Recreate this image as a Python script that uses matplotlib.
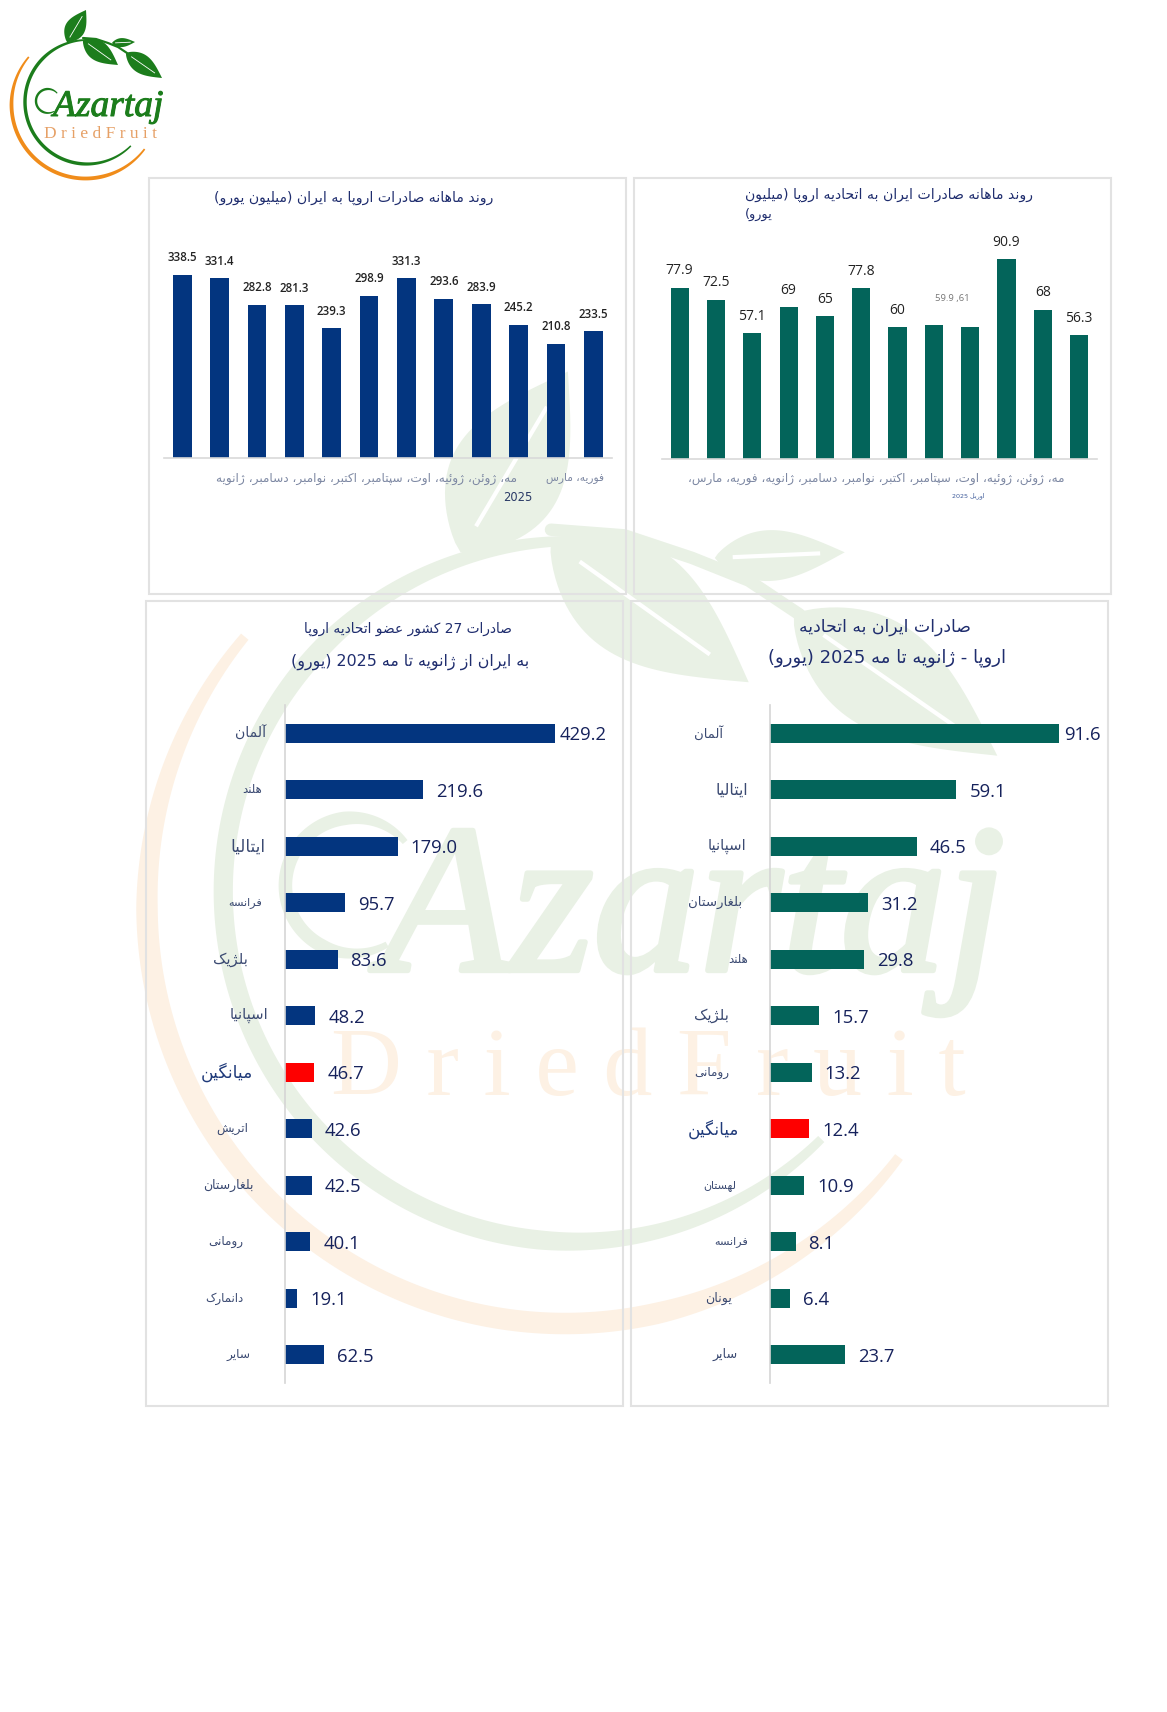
import re
import numpy as np
import matplotlib
matplotlib.use('Agg')
import matplotlib.pyplot as plt
import matplotlib.patheffects as pe
from matplotlib.patches import Polygon, Rectangle
from matplotlib.transforms import blended_transform_factory

W, H = 1167, 1712

# data
eu_to_iran_monthly = [338.5, 331.4, 282.8, 281.3, 239.3, 298.9, 331.3, 293.6, 283.9, 245.2, 210.8, 233.5]
iran_to_eu_monthly = [77.9, 72.5, 57.1, 69, 65, 77.8, 60, 61, 59.9, 90.9, 68, 56.3]

eu_countries = ['آلمان', 'هلند', 'ایتالیا', 'فرانسه', 'بلژیک', 'اسپانیا', 'میانگین', 'اتریش', 'بلغارستان', 'رومانی', 'دانمارک', 'سایر']
eu_values = [429.2, 219.6, 179.0, 95.7, 83.6, 48.2, 46.7, 42.6, 42.5, 40.1, 19.1, 62.5]

iran_countries = ['آلمان', 'ایتالیا', 'اسپانیا', 'بلغارستان', 'هلند', 'بلژیک', 'رومانی', 'میانگین', 'لهستان', 'فرانسه', 'یونان', 'سایر']
iran_values = [91.6, 59.1, 46.5, 31.2, 29.8, 15.7, 13.2, 12.4, 10.9, 8.1, 6.4, 23.7]

# where each country name sits (right edge, width in px), reads off the picture
eu_label_right = [266, 262, 266, 262, 248, 268, 253, 248, 254, 243, 243, 251]
eu_label_width = [31, 20, 35, 34, 35, 39, 52, 32, 51, 35, 38, 24]
iran_label_right = [723, 748, 746, 742, 748, 729, 729, 739, 736, 748, 732, 738]
iran_label_width = [29, 33, 39, 54, 20, 35, 35, 51, 33, 34, 27, 25]

NAVY = '#03357f'
TEAL = '#03645a'
RED = '#fe0000'
TITLE = '#1f2d6e'
GREY = '#7d88a3'

# matplotlib does not shape Arabic script, so pick presentation forms by hand
FORMS = {
    'ا': (0xFE8D, 0xFE8E), 'آ': (0xFE81, 0xFE82), 'د': (0xFEA9, 0xFEAA), 'ر': (0xFEAD, 0xFEAE),
    'ز': (0xFEAF, 0xFEB0), 'ژ': (0xFB8A, 0xFB8B), 'و': (0xFEED, 0xFEEE),
    'ب': (0xFE8F, 0xFE90, 0xFE91, 0xFE92), 'پ': (0xFB56, 0xFB57, 0xFB58, 0xFB59),
    'ت': (0xFE95, 0xFE96, 0xFE97, 0xFE98), 'ح': (0xFEA1, 0xFEA2, 0xFEA3, 0xFEA4),
    'س': (0xFEB1, 0xFEB2, 0xFEB3, 0xFEB4), 'ش': (0xFEB5, 0xFEB6, 0xFEB7, 0xFEB8),
    'ص': (0xFEB9, 0xFEBA, 0xFEBB, 0xFEBC), 'ض': (0xFEBD, 0xFEBE, 0xFEBF, 0xFEC0),
    'ع': (0xFEC9, 0xFECA, 0xFECB, 0xFECC), 'غ': (0xFECD, 0xFECE, 0xFECF, 0xFED0),
    'ف': (0xFED1, 0xFED2, 0xFED3, 0xFED4), 'ک': (0xFB8E, 0xFB8F, 0xFB90, 0xFB91),
    'گ': (0xFB92, 0xFB93, 0xFB94, 0xFB95), 'ل': (0xFEDD, 0xFEDE, 0xFEDF, 0xFEE0),
    'م': (0xFEE1, 0xFEE2, 0xFEE3, 0xFEE4), 'ن': (0xFEE5, 0xFEE6, 0xFEE7, 0xFEE8),
    'ه': (0xFEE9, 0xFEEA, 0xFEEB, 0xFEEC), 'ی': (0xFBFC, 0xFBFD, 0xFBFE, 0xFBFF),
    'ئ': (0xFE89, 0xFE8A, 0xFE8B, 0xFE8C),
}


def fa(s):
    out = []
    for i, c in enumerate(s):
        if c not in FORMS:
            out.append(c)
            continue
        f = FORMS[c]
        after_join = i > 0 and s[i - 1] in FORMS and len(FORMS[s[i - 1]]) == 4
        before_join = i + 1 < len(s) and s[i + 1] in FORMS and len(f) == 4
        if after_join and before_join:
            out.append(chr(f[3]))
        elif before_join:
            out.append(chr(f[2]))
        elif after_join:
            out.append(chr(f[1]))
        else:
            out.append(chr(f[0]))
    tokens = re.findall(r'[0-9.]+|.', ''.join(out))[::-1]
    mirror = {'(': ')', ')': '('}
    return ''.join(mirror.get(t, t) for t in tokens)


fig = plt.figure(figsize=(W / 100, H / 100), dpi=100, facecolor='white')
bg = fig.add_axes([0, 0, 1, 1], zorder=0)
bg.set_xlim(0, W)
bg.set_ylim(H, 0)
bg.axis('off')
renderer = fig.canvas.get_renderer()


def chart_axes(x0, y0, x1, y1):
    ax = fig.add_axes([x0 / W, 1 - y1 / H, (x1 - x0) / W, (y1 - y0) / H], zorder=2)
    ax.patch.set_alpha(0)
    return ax


def fit_text(x, y, s, width, color, ha='center', transform=None):
    # scale the font so the string covers the width it has in the picture
    t = bg.text(x, y, s, color=color, ha=ha, va='center', family='DejaVu Sans', fontsize=10,
                transform=transform or bg.transData)
    t.set_fontsize(10 * width / t.get_window_extent(renderer).width)
    return t


def ring(cx, cy, r, w, a0, a1):
    a = np.radians(np.linspace(a0, a1, 200))
    u = np.linspace(0, 1, 200)
    ww = w * np.minimum(1, 0.45 + 2.5 * np.minimum(u, 1 - u))
    outer = np.c_[cx + (r + ww / 2) * np.cos(a), cy - (r + ww / 2) * np.sin(a)]
    inner = np.c_[cx + (r - ww / 2) * np.cos(a), cy - (r - ww / 2) * np.sin(a)]
    return np.r_[outer, inner[::-1]]


def leaf(base, tip, bulge):
    base, tip = np.array(base, float), np.array(tip, float)
    d = tip - base
    n = np.array([-d[1], d[0]]) / np.hypot(*d)
    t = np.linspace(0, 1, 40)[:, None]
    edge = base + d * t
    side = n * (bulge * np.sin(np.pi * t ** 0.8))
    return np.r_[edge + side, (edge - side)[::-1]], edge


def draw_logo(k, ox, oy, green, orange, name_color, sub_color, lw_rib):
    z = 1

    def to_px(p):
        return np.asarray(p) * k + [ox, oy]

    bg.add_patch(Polygon(to_px(ring(85.5, 104.5, 74, 3.8, 140, 323)), fc=orange, ec='none', zorder=z))
    bg.add_patch(Polygon(to_px(ring(87, 102, 62, 3.4, 85, 315)), fc=green, ec='none', zorder=z))
    stem = to_px([[83, 38], [96, 39], [108, 43], [118, 47], [127, 53]])
    bg.plot(stem[:, 0], stem[:, 1], color=green, lw=2.2 * k * 0.72, zorder=z, solid_capstyle='round')
    for base, tip, bulge in [((67, 42), (86, 10), 10), ((83, 40), (118, 65), 10),
                             ((112, 43), (135, 42), 4.5), ((126, 53), (162, 78), 9.5)]:
        pts, rib = leaf(base, tip, bulge)
        bg.add_patch(Polygon(to_px(pts), fc=green, ec='none', zorder=z))
        rib = to_px(rib[6:32])
        bg.plot(rib[:, 0], rib[:, 1], color='white', lw=lw_rib, zorder=z + 0.1)
    # swash in front of the A
    bg.add_patch(Polygon(to_px(ring(48, 101, 12, 2.4, 40, 300)), fc=name_color, ec='none', zorder=z + 0.2))
    x, y = to_px((53, 116))
    name = bg.text(x, y, 'Azartaj', color=name_color, family='Liberation Serif', style='italic',
                   fontsize=27 * k, ha='left', va='baseline', zorder=z + 0.2)
    # the script in the logo has heavier strokes than the serif italic
    name.set_path_effects([pe.withStroke(linewidth=0.7 * k, foreground=name_color)])
    x, y = to_px((44, 138))
    bg.text(x, y, 'D r i e d F r u i t', color=sub_color, family='Liberation Serif',
            fontsize=12.5 * k, ha='left', va='baseline', zorder=z + 0.2)


# watermark is the logo blown up behind the panels
draw_logo(5.65, 82, 315, '#e9f1e5', '#fdf1e4', '#e9f1e5', '#fdf1e4', 3)
draw_logo(1, 0, 0, '#1c7d1c', '#f08c1a', '#1c7d1c', '#e6a066', 0.6)

for x0, y0, x1, y1 in [(149, 178, 626, 594), (634, 178, 1111, 594), (146, 601, 623, 1406), (631, 601, 1108, 1406)]:
    bg.add_patch(Rectangle((x0, y0), x1 - x0, y1 - y0, fc='none', ec='#e2e2e2', lw=1.5, zorder=1.5))


def monthly_chart(values, x0, x1, y_base, px_per_unit, color, fontsize, weight, skip=()):
    y_top = y_base - 230
    ax = chart_axes(x0, y_top, x1, y_base)
    xs = np.arange(len(values))
    ax.bar(xs, values, width=0.5, color=color)
    ax.set_xlim(-0.5, len(values) - 0.5)
    ax.set_ylim(0, 230 / px_per_unit)
    for side in ['top', 'left', 'right']:
        ax.spines[side].set_visible(False)
    ax.spines['bottom'].set_color('#d9d9d9')
    ax.spines['bottom'].set_linewidth(1.2)
    ax.set_xticks([])
    ax.set_yticks([])
    for i, v in enumerate(values):
        if i in skip:
            continue
        ax.annotate(str(v), (i, v), xytext=(0, 17), textcoords='offset pixels', ha='center', va='center',
                    family='Open Sans', fontsize=fontsize, weight=weight, color='#222222', annotation_clip=False)
    return ax


ax_tl = monthly_chart(eu_to_iran_monthly, 163.5, 612, 457.5, 183 / 338.5, NAVY, 8.3, 'semibold')
ax_tr = monthly_chart(iran_to_eu_monthly, 661.5, 1097.2, 458.5, 170.6 / 77.9, TEAL, 10, 'normal', skip=(7, 8))
# the two neighbouring labels share one small grey text in the original
ax_tr.annotate(f'{iran_to_eu_monthly[8]} ,{iran_to_eu_monthly[7]}', (7.5, iran_to_eu_monthly[7]), xytext=(0, 26),
               textcoords='offset pixels', ha='center', va='center', family='Open Sans', fontsize=6.8,
               color='#777777', annotation_clip=False)


def country_chart(names, values, x0, x1, px_per_unit, color, label_right, label_width):
    ax = chart_axes(x0, 705, x1, 1383)
    ys = np.arange(len(values))
    colors = [RED if n == 'میانگین' else color for n in names]
    ax.barh(ys, values, height=0.345, color=colors, left=0)
    ax.set_ylim(len(values) - 0.5, -0.5)
    ax.set_xlim(0, (x1 - x0) / px_per_unit)
    for side in ['top', 'right', 'bottom']:
        ax.spines[side].set_visible(False)
    ax.spines['left'].set_color('#d5d5d5')
    ax.spines['left'].set_linewidth(1.2)
    ax.set_xticks([])
    ax.set_yticks([])
    names_tr = blended_transform_factory(bg.transData, ax.transData)
    for i, (n, v) in enumerate(zip(names, values)):
        gap = 5 if i == 0 else 13
        ax.annotate(f'{v:.1f}', (v, i), xytext=(gap, -2), textcoords='offset pixels', ha='left', va='center',
                    family='Open Sans', fontsize=13.3, color='#16225c', annotation_clip=False)
        fit_text(label_right[i], i, fa(n), label_width[i], '#1f3a7a' if n == 'میانگین' else '#3b4a72',
                 ha='right', transform=names_tr)
    return ax


ax_bl = country_chart(eu_countries, eu_values, 285, 615, 270 / 429.2, NAVY, eu_label_right, eu_label_width)
ax_br = country_chart(iran_countries, iran_values, 770, 1100, 288.7 / 91.6, TEAL, iran_label_right, iran_label_width)

# titles
fit_text(354, 198, fa('روند ماهانه صادرات اروپا به ایران (میلیون یورو)'), 277, TITLE)
fit_text(1033, 195, fa('روند ماهانه صادرات ایران به اتحادیه اروپا (میلیون'), 286, TITLE, ha='right')
fit_text(745, 214, fa('یورو)'), 28, TITLE, ha='left')
fit_text(408, 629, fa('صادرات 27 کشور عضو اتحادیه اروپا'), 207, TITLE)
fit_text(410, 662, fa('به ایران از ژانویه تا مه 2025 (یورو)'), 239, TITLE)
fit_text(885, 627, fa('صادرات ایران به اتحادیه'), 172, TITLE)
fit_text(887, 658, fa('اروپا - ژانویه تا مه 2025 (یورو)'), 237, TITLE)

# month captions, broken up the same way as in the original
fit_text(604, 478, fa('فوریه، مارس'), 58, GREY, ha='right')
fit_text(517, 478, fa('مه، ژوئن، ژوئیه، اوت، سپتامبر، اکتبر، نوامبر، دسامبر، ژانویه'), 301, GREY, ha='right')
fit_text(518, 497, '2025', 29, '#2a3a66')
fit_text(1064, 478, fa('مه، ژوئن، ژوئیه، اوت، سپتامبر، اکتبر، نوامبر، دسامبر، ژانویه، فوریه، مارس،'), 376, GREY, ha='right')
fit_text(968, 496, fa('اوریل 2025'), 33, '#3d5a99')

fig.savefig('out.png', dpi=100)
